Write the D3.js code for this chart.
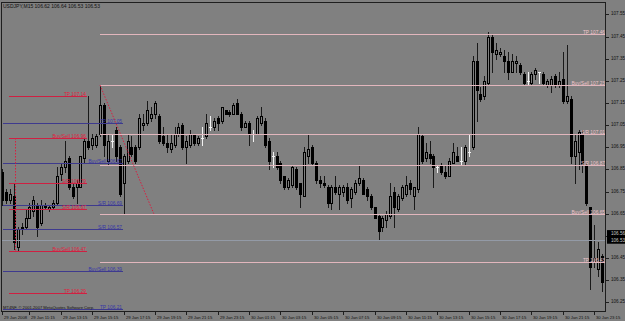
<!DOCTYPE html>
<html>
<head>
  <meta charset="utf-8">
  <script src="https://d3js.org/d3.v7.min.js"></script>
  <style>
    body {
      margin: 0;
      background: #808080;
    }
    svg {
      display: block;
    }
    text {
      font-family: "Liberation Sans", Arial, sans-serif;
    }
  </style>
</head>
<body>
<script type="text/javascript">

  // USDJPY M15 bars (29 Jan 09:30 onwards)
  var opens = [
    106.84, 106.75, 106.71, 106.73, 106.50, 106.59, 106.59, 106.63, 106.66, 106.69,
    106.61, 106.69, 106.67, 106.68, 106.70, 106.83, 106.86, 106.90, 106.77, 106.77,
    106.77, 106.90, 106.98, 106.96, 106.96, 107.01, 107.14, 106.89, 106.98, 107.03,
    106.95, 106.79, 106.89, 106.95, 106.95, 106.95, 107.05, 107.06, 107.08, 107.10,
    107.09, 107.00, 106.97, 106.94, 106.96, 107.01, 107.05, 106.95, 106.96, 107.01,
    106.97, 106.99, 107.00, 107.04, 107.04, 107.08, 107.07, 107.12, 107.11, 107.10,
    107.15, 107.10, 107.04, 107.06, 107.01, 107.01, 107.06, 107.07, 106.98, 106.91,
    106.91, 106.88, 106.82, 106.77, 106.78, 106.85, 106.79, 106.73, 106.91, 106.95,
    106.88, 106.80, 106.79, 106.77, 106.70, 106.77, 106.74, 106.75, 106.77, 106.72,
    106.75, 106.79, 106.80, 106.76, 106.73, 106.68, 106.64, 106.59, 106.62, 106.64,
    106.75, 106.67, 106.72, 106.74, 106.79, 106.73, 106.76, 107.00, 106.90, 106.92,
    106.91, 106.86, 106.87, 106.84, 106.82, 106.88, 106.91, 106.89, 106.89, 106.93,
    106.95, 107.34, 107.19, 107.18, 107.24, 107.45, 107.37, 107.37, 107.36, 107.34,
    107.29, 107.33, 107.32, 107.28, 107.25, 107.24, 107.28, 107.29, 107.28, 107.23,
    107.23, 107.27, 107.23, 107.26, 107.16, 107.17, 106.91, 106.93, 107.01, 106.87,
    106.68, 106.43, 106.40, 106.46, 106.33
  ];
  var highs = [
    106.85, 106.76, 106.76, 106.79, 106.59, 106.61, 106.67, 106.70, 106.73, 106.70,
    106.71, 106.70, 106.69, 106.71, 106.86, 106.88, 106.98, 106.91, 106.79, 106.80,
    106.91, 106.99, 107.18, 107.01, 107.01, 107.23, 107.15, 107.01, 107.01, 107.04,
    106.96, 106.92, 107.01, 107.00, 106.96, 107.10, 107.10, 107.16, 107.13, 107.16,
    107.10, 107.04, 107.01, 107.01, 107.04, 107.06, 107.06, 107.00, 107.03, 107.01,
    107.00, 107.04, 107.10, 107.09, 107.08, 107.09, 107.13, 107.12, 107.12, 107.15,
    107.17, 107.11, 107.07, 107.07, 107.03, 107.09, 107.13, 107.08, 106.99, 106.93,
    106.93, 106.89, 106.82, 106.81, 106.87, 106.86, 106.79, 106.95, 107.01, 106.96,
    106.89, 106.82, 106.82, 106.78, 106.78, 106.82, 106.78, 106.78, 106.79, 106.77,
    106.80, 106.87, 106.81, 106.77, 106.74, 106.68, 106.65, 106.64, 106.66, 106.79,
    106.77, 106.74, 106.78, 106.82, 106.80, 106.77, 107.04, 107.01, 106.97, 106.98,
    106.92, 106.87, 106.88, 106.87, 106.90, 106.97, 106.95, 106.95, 106.96, 107.01,
    107.36, 107.42, 107.22, 107.27, 107.47, 107.46, 107.42, 107.40, 107.39, 107.38,
    107.37, 107.36, 107.33, 107.29, 107.29, 107.29, 107.31, 107.29, 107.29, 107.26,
    107.27, 107.28, 107.29, 107.38, 107.41, 107.18, 107.01, 107.03, 107.03, 106.88,
    106.68, 106.60, 106.52, 106.47, 106.33
  ];
  var lows = [
    106.69, 106.70, 106.70, 106.49, 106.48, 106.56, 106.58, 106.63, 106.64, 106.55,
    106.60, 106.67, 106.66, 106.67, 106.69, 106.80, 106.84, 106.76, 106.72, 106.70,
    106.77, 106.88, 106.94, 106.94, 106.95, 107.00, 106.91, 106.87, 106.95, 106.89,
    106.73, 106.65, 106.88, 106.91, 106.88, 106.94, 107.03, 107.05, 107.07, 107.08,
    106.97, 106.96, 106.93, 106.93, 106.95, 107.00, 106.94, 106.88, 106.95, 106.96,
    106.96, 106.96, 106.99, 107.03, 107.03, 107.03, 107.06, 107.10, 107.09, 107.10,
    107.10, 107.03, 107.04, 106.96, 106.98, 107.01, 107.05, 106.95, 106.85, 106.86,
    106.85, 106.79, 106.76, 106.76, 106.77, 106.76, 106.68, 106.73, 106.88, 106.87,
    106.79, 106.77, 106.77, 106.68, 106.67, 106.74, 106.67, 106.73, 106.70, 106.68,
    106.74, 106.78, 106.74, 106.71, 106.67, 106.63, 106.53, 106.57, 106.59, 106.63,
    106.59, 106.66, 106.71, 106.73, 106.74, 106.67, 106.75, 106.88, 106.89, 106.88,
    106.77, 106.84, 106.83, 106.81, 106.82, 106.88, 106.89, 106.87, 106.87, 106.91,
    106.94, 107.07, 107.16, 107.17, 107.23, 107.29, 107.35, 107.36, 107.29, 107.26,
    107.29, 107.29, 107.28, 107.23, 107.23, 107.23, 107.26, 107.24, 107.23, 107.22,
    107.20, 107.22, 107.22, 107.15, 107.15, 106.88, 106.79, 106.85, 106.84, 106.69,
    106.31, 106.41, 106.37, 106.30, 106.25
  ];
  var closes = [
    106.71, 106.71, 106.74, 106.52, 106.58, 106.58, 106.63, 106.68, 106.71, 106.59,
    106.69, 106.68, 106.68, 106.70, 106.82, 106.86, 106.89, 106.77, 106.73, 106.79,
    106.91, 106.98, 106.95, 106.99, 107.00, 107.14, 106.96, 106.98, 106.98, 106.91,
    106.74, 106.91, 106.98, 106.92, 106.89, 107.08, 107.06, 107.12, 107.10, 107.15,
    106.98, 106.97, 106.95, 106.97, 107.01, 107.04, 106.95, 106.98, 107.01, 106.97,
    106.99, 106.99, 107.06, 107.04, 107.07, 107.06, 107.13, 107.10, 107.10, 107.14,
    107.10, 107.04, 107.06, 107.01, 107.01, 107.08, 107.09, 106.96, 106.89, 106.91,
    106.86, 106.80, 106.77, 106.80, 106.86, 106.77, 106.74, 106.93, 106.94, 106.88,
    106.80, 106.79, 106.78, 106.70, 106.77, 106.75, 106.77, 106.77, 106.71, 106.76,
    106.79, 106.81, 106.74, 106.73, 106.68, 106.63, 106.57, 106.63, 106.65, 106.73,
    106.68, 106.73, 106.77, 106.78, 106.76, 106.77, 107.01, 106.89, 106.93, 106.90,
    106.86, 106.86, 106.84, 106.82, 106.89, 106.93, 106.89, 106.89, 106.95, 106.93,
    107.34, 107.21, 107.17, 107.25, 107.45, 107.38, 107.39, 107.38, 107.34, 107.29,
    107.34, 107.34, 107.29, 107.24, 107.25, 107.28, 107.30, 107.29, 107.24, 107.25,
    107.26, 107.23, 107.25, 107.16, 107.18, 106.91, 106.98, 107.02, 106.87, 106.70,
    106.41, 106.45, 106.49, 106.34, 106.26
  ];

  // price scale labels on the right
  var priceTicks = [107.55, 107.45, 107.35, 107.25, 107.15, 107.05, 106.95,
    106.85, 106.75, 106.65, 106.55, 106.45, 106.35, 106.25];

  // time labels and the bar each one sits on
  var timeLabels = ["29 Jan 2008", "29 Jan 11:15", "29 Jan 13:15", "29 Jan 15:15",
    "29 Jan 17:15", "29 Jan 19:15", "29 Jan 21:15", "29 Jan 23:15", "30 Jan 01:15",
    "30 Jan 03:15", "30 Jan 05:15", "30 Jan 07:15", "30 Jan 09:15", "30 Jan 11:15",
    "30 Jan 13:15", "30 Jan 15:15", "30 Jan 17:15", "30 Jan 19:15", "30 Jan 21:15",
    "30 Jan 23:15"];
  var timeLabelBars = [0, 7, 15, 23, 31, 39, 47, 55, 63, 71, 79, 87, 95, 103,
    111, 119, 127, 135, 143, 151];

  // pivot style levels drawn by the indicator (three sets)
  var redLevels = [107.18, 106.99, 106.79, 106.67, 106.48, 106.29];
  var redLabels = ["TP 107.14", "Buy/Sell 106.96", "S/R 106.79", "S/R 106.67",
    "Buy/Sell 106.47", "TP 106.29"];
  var blueLevels = [107.06, 106.88, 106.69, 106.58, 106.39, 106.22];
  var blueLabels = ["TP 107.05", "Buy/Sell 106.87", "S/R 106.69", "S/R 106.57",
    "Buy/Sell 106.39", "TP 106.21"];
  var pinkLevels = [107.46, 107.23, 107.01, 106.87, 106.65, 106.43];
  var pinkLabels = ["TP 107.46", "Buy/Sell 107.23", "S/R 107.01", "S/R 106.87",
    "Buy/Sell 106.65", "TP 106.43"];

  var bidPrice = 106.53;
  var askPrice = 106.56;
  var header = "USDJPY,M15  106.62 106.64 106.53 106.53";
  var copyright = "MT4NF, \u00a9 2001-2007 MetaQuotes Software Corp.";

  /*
    chart setup
  */
  var width = 625,
      height = 321;
  var plot = {left: 2, top: 3, right: 606, bottom: 312};
  var bg = "#808080";

  var svg = d3.select("body")
    .append("svg")
      .attr("width", width)
      .attr("height", height);

  svg.append("rect")
    .attr("width", width)
    .attr("height", height)
    .style("fill", bg);

  svg.append("clipPath")
      .attr("id", "plotclip")
    .append("rect")
      .attr("x", plot.left)
      .attr("y", plot.top)
      .attr("width", plot.right - plot.left)
      .attr("height", plot.bottom - plot.top);

  var x = d3.scaleLinear()
    .domain([0, opens.length - 1])
    .range([2, 606]);

  var y = d3.scaleLinear()
    .domain([106.2, 107.6])
    .range([313.3, 3.3]);

  function px(i) { return Math.round(x(i)); }
  function py(p) { return Math.round(y(p)); }

  var bars = opens.map(function (o, i) {
    return {i: i, open: o, high: highs[i], low: lows[i], close: closes[i]};
  });

  var chart = svg.append("g")
    .attr("clip-path", "url(#plotclip)");

  // wicks
  chart.selectAll("line.wick")
    .data(bars)
    .enter()
    .append("line")
      .attr("class", "wick")
      .attr("x1", function (d) { return px(d.i) + 0.5; })
      .attr("x2", function (d) { return px(d.i) + 0.5; })
      .attr("y1", function (d) { return py(d.high); })
      .attr("y2", function (d) { return py(d.low) + 1; })
      .style("stroke", function (d) { return d.open === d.close ? "#f2f2f2" : "#1a1a1a"; })
      .style("stroke-width", 1);

  // bodies: black for down bars, hollow for up bars
  chart.selectAll("rect.body")
    .data(bars.filter(function (d) { return d.open !== d.close; }))
    .enter()
    .append("rect")
      .attr("class", "body")
      .attr("x", function (d) { return px(d.i) - 0.5; })
      .attr("y", function (d) { return py(Math.max(d.open, d.close)) + 0.5; })
      .attr("width", 2)
      .attr("height", function (d) {
        return Math.max(py(Math.min(d.open, d.close)) - py(Math.max(d.open, d.close)), 1);
      })
      .style("fill", function (d) { return d.close > d.open ? bg : "#000"; })
      .style("stroke", "#000")
      .style("stroke-width", 1);

  // doji bars are drawn white in MT4
  chart.selectAll("line.doji")
    .data(bars.filter(function (d) { return d.open === d.close; }))
    .enter()
    .append("line")
      .attr("x1", function (d) { return px(d.i) - 1; })
      .attr("x2", function (d) { return px(d.i) + 2; })
      .attr("y1", function (d) { return py(d.open) + 0.5; })
      .attr("y2", function (d) { return py(d.open) + 0.5; })
      .style("stroke", "#f2f2f2");

  // bid line
  chart.append("line")
    .attr("x1", plot.left)
    .attr("x2", plot.right)
    .attr("y1", py(bidPrice) + 0.5)
    .attr("y2", py(bidPrice) + 0.5)
    .style("stroke", "#939aa6");

  // helper to draw one set of levels with their labels
  function drawLevels(levels, labels, fromBar, toX, lineColor, textColor) {
    var x0 = Math.round(x(fromBar));
    chart.selectAll(null)
      .data(levels)
      .enter()
      .append("line")
        .attr("x1", x0)
        .attr("x2", toX)
        .attr("y1", function (d) { return py(d) + 0.5; })
        .attr("y2", function (d) { return py(d) + 0.5; })
        .style("stroke", lineColor);

    chart.selectAll(null)
      .data(levels)
      .enter()
      .append("text")
        .attr("x", toX - 1)
        .attr("y", function (d) { return py(d) - 0.5; })
        .attr("text-anchor", "end")
        .style("font-size", "4.8px")
        .style("fill", textColor)
        .text(function (d, i) { return labels[i]; });
  }

  drawLevels(pinkLevels, pinkLabels, 25, plot.right, "#e2b6bd", "#efc6cb");
  drawLevels(blueLevels, blueLabels, 0.2, Math.round(x(30.9)), "#3e3a8e", "#3636a8");
  drawLevels(redLevels, redLabels, 1.8, Math.round(x(21.7)), "#cf2042", "#e0203f");

  // dotted connectors between the buy/sell levels
  chart.append("line")
    .attr("x1", Math.round(x(3.3)) + 0.5)
    .attr("x2", Math.round(x(3.3)) + 0.5)
    .attr("y1", py(redLevels[1]))
    .attr("y2", py(redLevels[4]))
    .style("stroke", "#d81e40")
    .style("stroke-dasharray", "1.5,1.5");

  chart.append("line")
    .attr("x1", x(25))
    .attr("x2", x(38.7))
    .attr("y1", y(pinkLevels[1]))
    .attr("y2", y(pinkLevels[4]))
    .style("stroke", "#d81e40")
    .style("stroke-dasharray", "1.5,1.5");

  // frame
  svg.append("rect")
    .attr("x", plot.left - 0.5)
    .attr("y", plot.top - 0.5)
    .attr("width", plot.right - plot.left)
    .attr("height", plot.bottom - plot.top)
    .style("fill", "none")
    .style("stroke", "#1e1e1e");

  // price axis
  svg.selectAll("line.ptick")
    .data(priceTicks)
    .enter()
    .append("line")
      .attr("x1", plot.right)
      .attr("x2", plot.right + 3)
      .attr("y1", function (d) { return py(d) + 0.5; })
      .attr("y2", function (d) { return py(d) + 0.5; })
      .style("stroke", "#1e1e1e");

  svg.selectAll("text.ptick")
    .data(priceTicks)
    .enter()
    .append("text")
      .attr("x", plot.right + 5)
      .attr("y", function (d) { return py(d) + 0.5; })
      .style("font-size", "4.6px")
      .style("fill", "#111")
      .text(function (d) { return d.toFixed(2); });

  // current price boxes
  [askPrice, bidPrice].forEach(function (p) {
    svg.append("rect")
      .attr("x", plot.right + 1)
      .attr("y", y(p) - 3.5)
      .attr("width", 18)
      .attr("height", 7)
      .style("fill", "#000");
    svg.append("text")
      .attr("x", plot.right + 5)
      .attr("y", y(p) + 1.7)
      .style("font-size", "4.6px")
      .style("fill", "#c8c8c8")
      .text(p.toFixed(2));
  });

  // time axis
  svg.selectAll("line.ttick")
    .data(timeLabelBars)
    .enter()
    .append("line")
      .attr("x1", function (d) { return px(d) + 0.5; })
      .attr("x2", function (d) { return px(d) + 0.5; })
      .attr("y1", plot.bottom)
      .attr("y2", plot.bottom + 3)
      .style("stroke", "#1e1e1e");

  svg.selectAll("text.ttick")
    .data(timeLabelBars)
    .enter()
    .append("text")
      .attr("x", function (d) { return px(d) + 2; })
      .attr("y", plot.bottom + 6.5)
      .style("font-size", "4.2px")
      .style("fill", "#111")
      .text(function (d, i) { return timeLabels[i]; });

  // header and copyright
  svg.append("text")
    .attr("x", 3)
    .attr("y", 7.5)
    .style("font-size", "5px")
    .style("fill", "#111")
    .text(header);

  // copyright kept short enough to end before the blue TP label
  svg.append("text")
    .attr("x", 3)
    .attr("y", 308.5)
    .style("font-size", "4.1px")
    .style("fill", "#111")
    .text(copyright);

</script>
</body>
</html>
